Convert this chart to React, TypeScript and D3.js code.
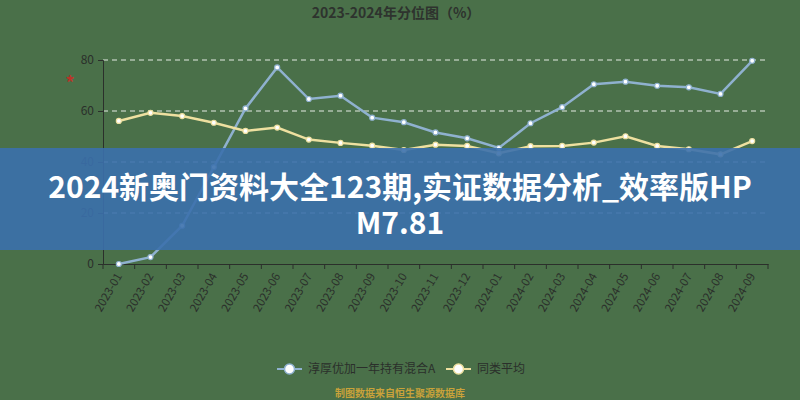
import { useEffect, useRef } from "react";
import * as d3 from "d3";

const months = [
  "2023-01", "2023-02", "2023-03", "2023-04", "2023-05", "2023-06", "2023-07",
  "2023-08", "2023-09", "2023-10", "2023-11", "2023-12", "2024-01", "2024-02",
  "2024-03", "2024-04", "2024-05", "2024-06", "2024-07", "2024-08", "2024-09",
];

const fundValues = [
  0, 2.7, 15, 38, 61, 77.1, 64.7, 66, 57.4, 55.6, 51.6, 49.3, 45.5, 55.2,
  61.5, 70.5, 71.5, 69.9, 69.3, 66.7, 79.7,
];

const peerValues = [
  56.1, 59.3, 58, 55.4, 52.2, 53.5, 48.8, 47.5, 46.4, 44.7, 46.8, 46.3, 43.4,
  46.2, 46.3, 47.6, 50.1, 46.3, 45, 43, 48.2,
];

const yTicks = [0, 20, 40, 60, 80];

const seriesNames = ["淳厚优加一年持有混合A", "同类平均"];
const seriesColors = ["#8fb1cf", "#eee0a0"];

const title = "2023-2024年分位图（%）";
const source = "制图数据来自恒生聚源数据库";
const bannerLines = ["2024新奥门资料大全123期,实证数据分析_效率版HP", "M7.81"];

const W = 800;
const H = 400;
const margin = { top: 60, right: 32, bottom: 136, left: 103 };

export default function App() {
  const svgRef = useRef<SVGSVGElement>(null);

  useEffect(() => {
    if (!svgRef.current) return;
    const svg = d3.select(svgRef.current);
    svg.selectAll("*").remove();

    const font = "'Noto Sans CJK SC', 'Noto Sans', sans-serif";

    svg.append("rect").attr("width", W).attr("height", H).attr("fill", "#4a7049");

    const x = d3
      .scaleBand<string>()
      .domain(months)
      .range([margin.left, W - margin.right]);
    const y = d3
      .scaleLinear()
      .domain([0, 80])
      .range([H - margin.bottom, margin.top]);

    // title
    svg.append("text")
      .attr("x", 396)
      .attr("y", 18)
      .attr("text-anchor", "middle")
      .attr("font-family", font)
      .attr("font-size", 14)
      .attr("font-weight", "bold")
      .attr("fill", "#2e332e")
      .text(title);

    // red mark
    svg.append("text")
      .attr("x", 70)
      .attr("y", 90)
      .attr("text-anchor", "middle")
      .attr("font-family", font)
      .attr("font-size", 18)
      .attr("font-weight", "bold")
      .attr("fill", "#b8352a")
      .text("*");

    // grid lines
    svg.append("g")
      .selectAll("line")
      .data(yTicks.filter((t) => t > 0))
      .enter()
      .append("line")
      .attr("x1", margin.left)
      .attr("x2", W - margin.right)
      .attr("y1", (d) => y(d))
      .attr("y2", (d) => y(d))
      .attr("stroke", "#e4ebe4")
      .attr("stroke-width", 1)
      .attr("stroke-dasharray", "5,4");

    // y axis
    const yAxis = svg
      .append("g")
      .attr("transform", `translate(${margin.left},0)`)
      .call(d3.axisLeft(y).tickValues(yTicks).tickSize(5).tickPadding(4));
    yAxis.select(".domain").attr("stroke", "#2b2f2b");
    yAxis.selectAll(".tick line").attr("stroke", "#2b2f2b");
    yAxis.selectAll(".tick text")
      .attr("fill", "#2b2f2b")
      .attr("font-family", font)
      .attr("font-size", 12);

    // x axis
    const xAxis = svg
      .append("g")
      .attr("transform", `translate(0,${H - margin.bottom})`)
      .call(d3.axisBottom(x).tickSize(0).tickPadding(0));
    xAxis.select(".domain").attr("stroke", "#2b2f2b");
    xAxis.selectAll(".tick text")
      .attr("fill", "#2b2f2b")
      .attr("font-family", font)
      .attr("font-size", 11.5)
      .attr("text-anchor", "end")
      .attr("dy", "0.35em")
      .attr("transform", "translate(0,10) rotate(-60)");

    // band boundary ticks
    const bounds = months.map((m) => x(m)!).concat([W - margin.right]);
    svg.append("g")
      .selectAll("line")
      .data(bounds)
      .enter()
      .append("line")
      .attr("x1", (d) => d)
      .attr("x2", (d) => d)
      .attr("y1", H - margin.bottom)
      .attr("y2", H - margin.bottom + 5)
      .attr("stroke", "#2b2f2b");

    const cx = (m: string) => x(m)! + x.bandwidth() / 2;

    const line = d3
      .line<number>()
      .x((_, i) => cx(months[i]))
      .y((d) => y(d));

    [fundValues, peerValues].forEach((vals, si) => {
      svg.append("path")
        .datum(vals)
        .attr("d", line)
        .attr("fill", "none")
        .attr("stroke", seriesColors[si])
        .attr("stroke-width", 2.5);
    });

    [peerValues, fundValues].forEach((vals) => {
      const si = vals === fundValues ? 0 : 1;
      svg.append("g")
        .selectAll("circle")
        .data(vals)
        .enter()
        .append("circle")
        .attr("cx", (_, i) => cx(months[i]))
        .attr("cy", (d) => y(d))
        .attr("r", 2.5)
        .attr("fill", "#ffffff")
        .attr("stroke", seriesColors[si])
        .attr("stroke-width", 1.2);
    });

    // legend
    const legendItems = [
      { x: 277, textX: 308 },
      { x: 446, textX: 477 },
    ];
    legendItems.forEach((item, i) => {
      const g = svg.append("g").attr("transform", `translate(${item.x},369)`);
      g.append("line")
        .attr("x1", 0)
        .attr("x2", 25)
        .attr("stroke", seriesColors[i])
        .attr("stroke-width", 2);
      g.append("circle")
        .attr("cx", 12.5)
        .attr("r", 5)
        .attr("fill", "#ffffff")
        .attr("stroke", seriesColors[i])
        .attr("stroke-width", 1.5);
      svg.append("text")
        .attr("x", item.textX)
        .attr("y", 369)
        .attr("dy", "0.35em")
        .attr("font-family", font)
        .attr("font-size", 12)
        .attr("fill", "#2b2f2b")
        .text(seriesNames[i]);
    });

    // source note
    svg.append("text")
      .attr("x", 400)
      .attr("y", 397)
      .attr("text-anchor", "middle")
      .attr("font-family", font)
      .attr("font-size", 10)
      .attr("font-weight", "bold")
      .attr("fill", "#c9a23a")
      .text(source);

    // banner overlay
    svg.append("rect")
      .attr("x", 0)
      .attr("y", 148)
      .attr("width", W)
      .attr("height", 102)
      .attr("fill", "#3b70ac")
      .attr("opacity", 0.9);

    svg.append("g")
      .selectAll("text")
      .data(bannerLines)
      .enter()
      .append("text")
      .attr("x", 400)
      .attr("y", (_, i) => 198 + i * 36)
      .attr("text-anchor", "middle")
      .attr("font-family", font)
      .attr("font-size", 30)
      .attr("font-weight", "bold")
      .attr("fill", "#ffffff")
      .text((d) => d);
  }, []);

  return (
    <svg
      ref={svgRef}
      width={W}
      height={H}
      style={{ position: "absolute", left: 0, top: 0 }}
    />
  );
}
